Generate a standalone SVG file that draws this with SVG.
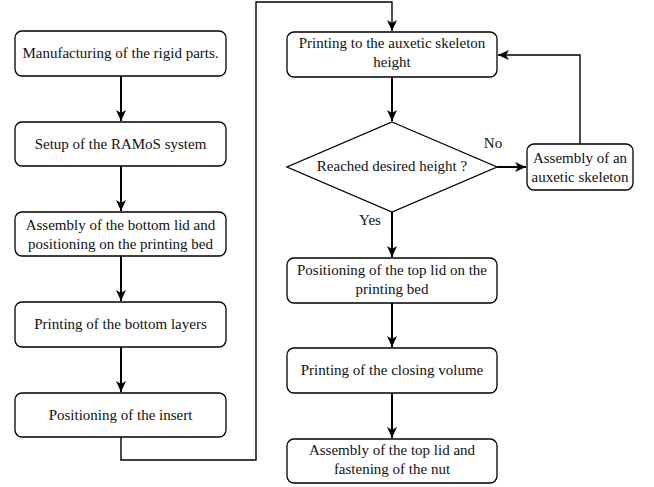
<svg xmlns="http://www.w3.org/2000/svg" width="654" height="487" viewBox="0 0 654 487">
<defs>
<marker id="ah" markerUnits="userSpaceOnUse" markerWidth="12" markerHeight="12" viewBox="0 0 12 12" refX="11" refY="6" orient="auto">
<path d="M0,1 L11,6 L0,11 L3,6 Z" fill="#000"/>
</marker>
</defs>
<style>
.box{fill:#fff;stroke:#000;stroke-width:1.3}
.c{fill:none;stroke:#000;stroke-width:2}
.c2{fill:none;stroke:#000;stroke-width:1.4}
</style>
<rect width="654" height="487" fill="#fff"/>
<g id="connectors">
<line class="c" x1="121" y1="76" x2="121" y2="121" marker-end="url(#ah)"/>
<line class="c" x1="121" y1="166" x2="121" y2="211" marker-end="url(#ah)"/>
<line class="c" x1="121" y1="256" x2="121" y2="301" marker-end="url(#ah)"/>
<line class="c" x1="121" y1="347" x2="121" y2="392" marker-end="url(#ah)"/>
<polyline class="c2" points="121,437 121,460 256,460 256,2 392,2 392,31" marker-end="url(#ah)"/>
<line class="c" x1="392" y1="77" x2="392" y2="121" marker-end="url(#ah)"/>
<line class="c" x1="497" y1="167" x2="526" y2="167" marker-end="url(#ah)"/>
<polyline class="c2" points="580,144 580,55 498,55" marker-end="url(#ah)"/>
<line class="c" x1="392" y1="212" x2="392" y2="257" marker-end="url(#ah)"/>
<line class="c" x1="392" y1="303" x2="392" y2="347" marker-end="url(#ah)"/>
<line class="c" x1="392" y1="393" x2="392" y2="438" marker-end="url(#ah)"/>
</g>
<g font-family="Liberation Serif, Times New Roman, DejaVu Serif, serif" font-size="15" fill="#111" text-anchor="middle">
<text x="493" y="148">No</text>
<text x="370" y="225">Yes</text>
<g id="n1"><rect class="box" x="15" y="31" width="211" height="45" rx="7"/><text x="120.5" y="58">Manufacturing of the rigid parts.</text></g>
<g id="n2"><rect class="box" x="15" y="122" width="211" height="44" rx="7"/><text x="120.5" y="149">Setup of the RAMoS system</text></g>
<g id="n3"><rect class="box" x="15" y="212" width="211" height="44" rx="7"/><text x="120.5" y="230">Assembly of the bottom lid and</text><text x="120.5" y="249">positioning on the printing bed</text></g>
<g id="n4"><rect class="box" x="15" y="302" width="211" height="45" rx="7"/><text x="120.5" y="329">Printing of the bottom layers</text></g>
<g id="n5"><rect class="box" x="15" y="393" width="211" height="44" rx="7"/><text x="120.5" y="420">Positioning of the insert</text></g>
<g id="n6"><rect class="box" x="287" y="32" width="210" height="45" rx="7"/><text x="392" y="48">Printing to the auxetic skeleton</text><text x="392" y="67">height</text></g>
<g id="n7"><polygon class="box" points="392,122 497,167 392,212 287,167"/><text x="392" y="171">Reached desired height ?</text></g>
<g id="n8"><rect class="box" x="527" y="144" width="106" height="46" rx="7"/><text x="580" y="163">Assembly of an</text><text x="580" y="182">auxetic skeleton</text></g>
<g id="n9"><rect class="box" x="287" y="258" width="210" height="45" rx="7"/><text x="392" y="275">Positioning of the top lid on the</text><text x="392" y="294">printing bed</text></g>
<g id="n10"><rect class="box" x="287" y="348" width="210" height="45" rx="7"/><text x="392" y="375">Printing of the closing volume</text></g>
<g id="n11"><rect class="box" x="287" y="439" width="210" height="44" rx="7"/><text x="392" y="455">Assembly of the top lid and</text><text x="392" y="474">fastening of the nut</text></g>
</g>
</svg>
